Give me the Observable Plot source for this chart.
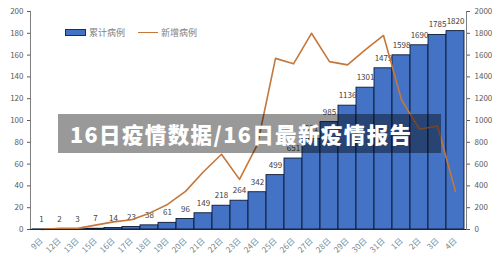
<!DOCTYPE html>
<html>
<head>
<meta charset="utf-8">
<script src="https://cdn.jsdelivr.net/npm/d3@7"></script>
<script src="https://cdn.jsdelivr.net/npm/@observablehq/plot@0.6"></script>
<style>
  html, body { margin: 0; padding: 0; background: #fff; }
  #wrap { position: relative; width: 500px; height: 268px; font-family: "Noto Sans CJK SC", "Noto Sans", sans-serif; }
  #legend { position: absolute; left: 65px; top: 26px; font-size: 9px; color: #7f7f7f; display: flex; align-items: center; }
  #legend .sw1 { width: 19px; height: 5px; background: #4472C4; border: 1px solid #1f2d50; margin-right: 3px; }
  #legend .sw2 { width: 20px; height: 0; border-top: 1.5px solid #C5773A; margin: 0 3px 0 13px; }
  #title { position: absolute; left: 58px; top: 114px; width: 383px; height: 39px; background: rgba(0,0,0,0.4);
           color: #fff; font-weight: 900; font-size: 21.5px; letter-spacing: 1.4px; line-height: 39px; padding-left: 12px; box-sizing: border-box; white-space: nowrap; }
</style>
</head>
<body>
<div id="wrap">
  <div id="chart"></div>
  <div id="legend"><div class="sw1"></div><span>累计病例</span><div class="sw2"></div><span>新增病例</span></div>
  <div id="title">16日疫情数据/16日最新疫情报告</div>
</div>
<script>
const days = ["9日","12日","13日","15日","16日","17日","18日","19日","20日","21日","22日","23日","24日","25日","26日","27日","28日","29日","30日","31日","1日","2日","3日","4日"];
const cumulative = [1,2,3,7,14,23,38,61,96,149,218,264,342,499,651,831,985,1136,1301,1479,1598,1690,1785,1820];
const newCases = [0,1,1,4,7,9,15,23,35,53,69,46,78,157,152,180,154,151,165,178,119,92,95,35];
const leftTicks = [0,20,40,60,80,100,120,140,160,180,200];
const rightTicks = [0,200,400,600,800,1000,1200,1400,1600,1800,2000];

const data = days.map((d, i) => ({day: d, cum: cumulative[i], nw: newCases[i]}));

const chart = Plot.plot({
  width: 500,
  height: 268,
  marginLeft: 30,
  marginRight: 34,
  marginTop: 11,
  marginBottom: 39,
  style: {fontFamily: "'Noto Sans CJK SC', 'Noto Sans', sans-serif", fontSize: "8px", color: "#595959", background: "transparent"},
  x: {domain: days, padding: 0, label: null},
  y: {domain: [0, 2000], label: null},
  marks: [
    Plot.barY(data, {x: "day", y: "cum", fill: "#4472C4", stroke: "#0d1a33", strokeWidth: 0.9}),
    Plot.text(data, {x: "day", y: "cum", text: d => String(d.cum), dy: -10, fontSize: 8, fill: "#404040"}),
    Plot.lineY(data, {x: "day", y: d => d.nw * 10, stroke: "#C5773A", strokeWidth: 1.6}),
    Plot.frame({anchor: "left", stroke: "#7f7f7f"}),
    Plot.frame({anchor: "right", stroke: "#7f7f7f"}),
    Plot.ruleY([0], {stroke: "#262626", strokeWidth: 1}),
    Plot.axisY({anchor: "left", ticks: leftTicks.map(v => v * 10), tickFormat: d => String(d / 10), tickSize: 3, tickPadding: 4, fontSize: 8, label: null}),
    Plot.axisY({anchor: "right", ticks: rightTicks, tickFormat: d => String(d), tickSize: 3, tickPadding: 5, fontSize: 8, label: null}),
    Plot.axisX({tickRotate: -45, tickSize: 0, tickPadding: 10, fontSize: 8, fill: "#7f7f7f", label: null})
  ]
});
document.getElementById("chart").appendChild(chart);
</script>
</body>
</html>
